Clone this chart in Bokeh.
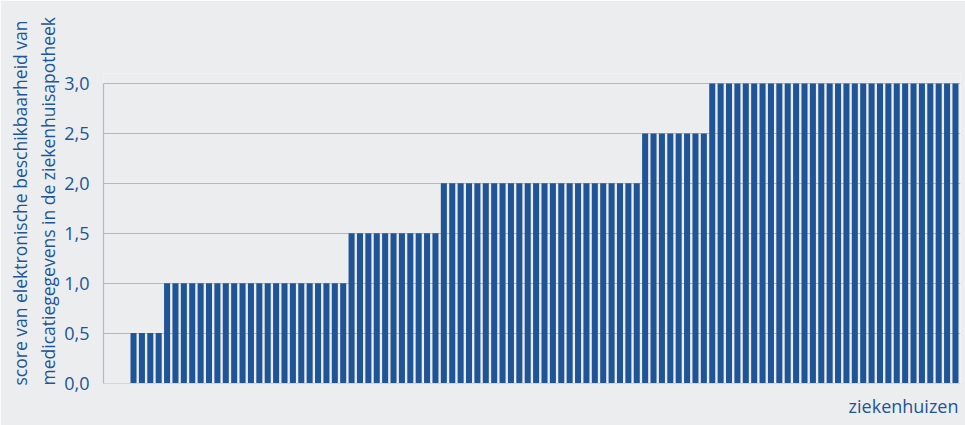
from bokeh.plotting import figure
from bokeh.models import Range1d, FixedTicker, ColumnDataSource, Title
from bokeh.embed import file_html
from bokeh.resources import INLINE

# scores per hospital (ziekenhuis), sorted ascending
scores = [
    0.5, 0.5, 0.5, 0.5,
    1.0, 1.0, 1.0, 1.0, 1.0, 1.0, 1.0, 1.0, 1.0, 1.0, 1.0,
    1.0, 1.0, 1.0, 1.0, 1.0, 1.0, 1.0, 1.0, 1.0, 1.0, 1.0,
    1.5, 1.5, 1.5, 1.5, 1.5, 1.5, 1.5, 1.5, 1.5, 1.5, 1.5,
    2.0, 2.0, 2.0, 2.0, 2.0, 2.0, 2.0, 2.0, 2.0, 2.0, 2.0, 2.0,
    2.0, 2.0, 2.0, 2.0, 2.0, 2.0, 2.0, 2.0, 2.0, 2.0, 2.0, 2.0,
    2.5, 2.5, 2.5, 2.5, 2.5, 2.5, 2.5, 2.5,
    3.0, 3.0, 3.0, 3.0, 3.0, 3.0, 3.0, 3.0, 3.0, 3.0,
    3.0, 3.0, 3.0, 3.0, 3.0, 3.0, 3.0, 3.0, 3.0, 3.0,
    3.0, 3.0, 3.0, 3.0, 3.0, 3.0, 3.0, 3.0, 3.0, 3.0,
]
hospitals = list(range(1, len(scores) + 1))
y_ticks = [0.0, 0.5, 1.0, 1.5, 2.0, 2.5, 3.0]
y_tick_labels = {0.0: "0,0", 0.5: "0,5", 1.0: "1,0", 1.5: "1,5",
                 2.0: "2,0", 2.5: "2,5", 3.0: "3,0"}
y_title_1 = "score van elektronische beschikbaarheid van"
y_title_2 = "medicatiegegevens in de ziekenhuisapotheek"
x_title = "ziekenhuizen"

BG = "#ECEDEF"
BLUE = "#1F5496"
TEXT = "#1D5597"
GRID = "#B4B9BE"
FONT = "Open Sans"

p = figure(width=965, height=425, output_backend="svg", toolbar_location=None,
           x_range=Range1d(-2.58, 99.6), y_range=Range1d(-0.005, 3.1),
           min_border_left=103, min_border_right=5, min_border_top=73,
           min_border_bottom=42)
p.background_fill_color = BG
p.border_fill_color = BG
p.outline_line_color = None

src = ColumnDataSource(dict(x=hospitals, top=scores))
p.vbar(x="x", top="top", bottom=0, width=0.72, source=src,
       fill_color=BLUE, line_color=None)

p.xaxis.visible = False
p.xgrid.visible = False

p.yaxis.ticker = FixedTicker(ticks=y_ticks)
p.yaxis.major_label_overrides = y_tick_labels
p.yaxis.bounds = (0, 3)
p.yaxis.axis_line_color = GRID
p.yaxis.axis_line_width = 1.2
p.yaxis.major_tick_line_color = None
p.yaxis.minor_tick_line_color = None
p.yaxis.major_tick_out = 0
p.yaxis.major_tick_in = 0
p.yaxis.major_label_standoff = 14
p.yaxis.major_label_text_font = FONT
p.yaxis.major_label_text_font_size = "18px"
p.yaxis.major_label_text_color = TEXT

p.ygrid.ticker = FixedTicker(ticks=y_ticks)
p.ygrid.grid_line_color = GRID
p.ygrid.grid_line_width = 1.2

for txt, so in ((y_title_2, 3), (y_title_1, 2)):
    p.add_layout(Title(text=txt, align="left", text_font=FONT,
                       text_font_size="17.5px", text_font_style="normal",
                       text_color=TEXT, standoff=so, offset=-2), "left")

p.add_layout(Title(text=x_title, align="right", text_font=FONT,
                   text_font_size="18px", text_font_style="normal",
                   text_color=TEXT, standoff=16, offset=2), "below")

open("out.html", "w").write(file_html(p, INLINE))
